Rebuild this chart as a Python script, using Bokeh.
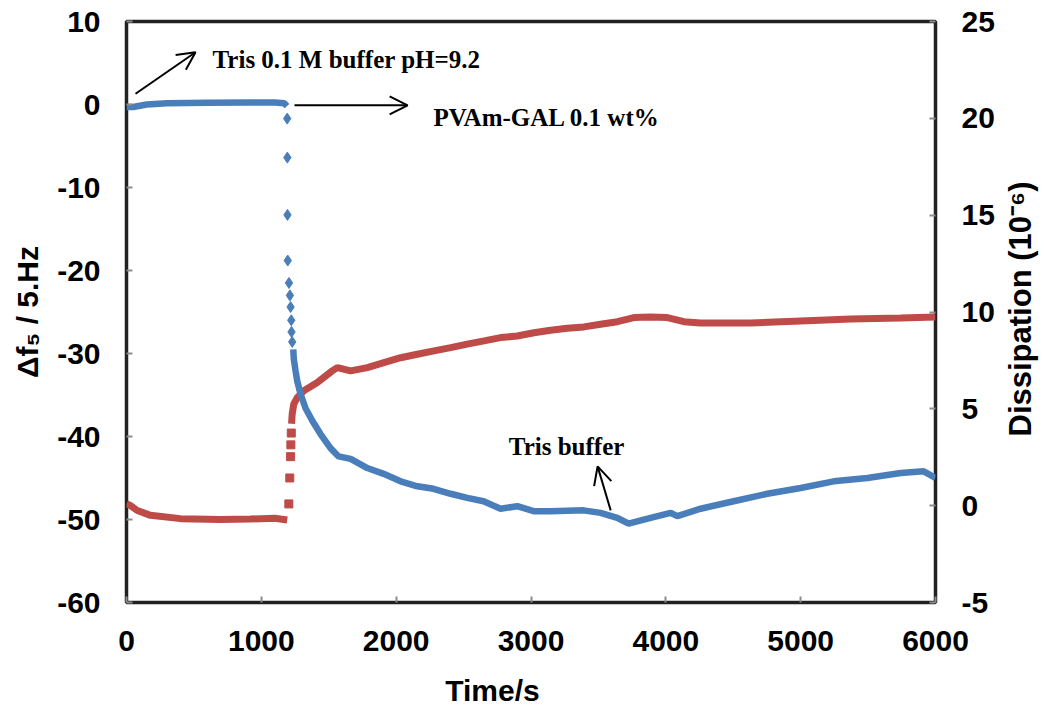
import math
from bokeh.plotting import figure
from bokeh.layouts import row, column
from bokeh.models import (Range1d, LinearAxis, FixedTicker, Label, Arrow, OpenHead,
                          CustomJSTickFormatter)
from bokeh.embed import file_html
from bokeh.resources import INLINE

# ---- data ----
freq_t_pre = [0, 50, 150, 300, 600, 900, 1100, 1170, 1190]
freq_v_pre = [-0.3, -0.3, 0.0, 0.15, 0.2, 0.25, 0.25, 0.15, -0.2]
freq_t_jump = [1192, 1193, 1194, 1196, 1205, 1212, 1217, 1222, 1224, 1229]
freq_v_jump = [-1.7, -6.4, -13.3, -18.8, -21.5, -23.0, -24.4, -26.0, -27.4, -28.6]
freq_t_post = [1237, 1241, 1254, 1266, 1291, 1328, 1378, 1439, 1513, 1573, 1662, 1786,
               1907, 2033, 2157, 2277, 2404, 2527, 2648, 2774, 2898, 3019, 3145, 3390,
               3516, 3640, 3724, 3887, 4036, 4085, 4258, 4503, 4753, 5000, 5245, 5495,
               5742, 5913, 6000]
freq_v_post = [-29.5, -30.7, -32.1, -33.3, -34.9, -36.6, -38.1, -39.7, -41.4, -42.4, -42.7,
               -43.8, -44.5, -45.4, -46.0, -46.3, -46.9, -47.4, -47.8, -48.7, -48.4, -49.0,
               -49.0, -48.9, -49.2, -49.8, -50.5, -49.8, -49.2, -49.6, -48.7, -47.8, -46.9,
               -46.2, -45.4, -45.0, -44.4, -44.2, -45.0]

diss_t_pre = [0, 30, 80, 178, 400, 697, 920, 1100, 1192]
diss_v_pre = [0.1, 0.0, -0.25, -0.5, -0.67, -0.72, -0.69, -0.65, -0.74]
diss_t_jump = [1204, 1211, 1217, 1219, 1222]
diss_v_jump = [0.09, 1.43, 2.53, 3.14, 3.75]
diss_t_post = [1224, 1229, 1241, 1266, 1315, 1415, 1526, 1563, 1662, 1786, 1909, 2033,
               2157, 2280, 2404, 2527, 2651, 2774, 2898, 3022, 3145, 3269, 3392, 3516,
               3640, 3763, 3887, 4011, 4134, 4258, 4629, 5000, 5371, 5742, 6000]
diss_v_post = [4.23, 4.74, 5.26, 5.58, 5.93, 6.36, 6.96, 7.13, 6.96, 7.13, 7.39, 7.64,
               7.82, 7.99, 8.16, 8.34, 8.51, 8.68, 8.76, 8.93, 9.06, 9.16, 9.23, 9.37,
               9.5, 9.71, 9.74, 9.71, 9.5, 9.43, 9.43, 9.54, 9.64, 9.69, 9.74]

x_ticks = [0, 1000, 2000, 3000, 4000, 5000, 6000]
left_ticks = [-60, -50, -40, -30, -20, -10, 0, 10]
right_ticks = [-5, 0, 5, 10, 15, 20, 25]

x_title = "Time/s"
left_title = "Δf₅ / 5.Hz"
right_title = "Dissipation (10⁻⁶)"

BLUE = "#4A7EBB"
RED = "#BE4B48"
SANS = "Liberation Sans"
SERIF = "Liberation Serif"

# ---- main plot ----
p = figure(width=1000, height=672, x_range=Range1d(0, 6000), y_range=Range1d(-60, 10),
           output_backend="svg", toolbar_location=None,
           min_border_left=126, min_border_right=65, min_border_top=21, min_border_bottom=70)
p.extra_y_ranges = {"diss": Range1d(-5, 25)}
p.grid.visible = False
p.outline_line_color = "#222222"
p.outline_line_width = 3.5
p.background_fill_color = "white"
p.border_fill_color = "white"

fmt = CustomJSTickFormatter(code="return tick.toFixed(0);")

def style_axis(ax, standoff):
    ax.formatter = fmt
    ax.axis_line_color = None
    ax.major_tick_in = 6
    ax.major_tick_out = 0
    ax.minor_tick_line_color = None
    ax.major_tick_line_color = "#8c8c8c"
    ax.major_tick_line_width = 2
    ax.major_label_text_font = SANS
    ax.major_label_text_font_style = "bold"
    ax.major_label_text_font_size = "30px"
    ax.major_label_text_color = "black"
    ax.major_label_standoff = standoff
    ax.axis_label_text_font = SANS
    ax.axis_label_text_font_style = "bold"
    ax.axis_label_text_font_size = "30px"
    ax.axis_label_text_color = "black"

xa = p.xaxis[0]
xa.ticker = FixedTicker(ticks=x_ticks)
style_axis(xa, 28)

ya = p.yaxis[0]
ya.ticker = FixedTicker(ticks=left_ticks)
style_axis(ya, 26)
ya.axis_label = left_title
ya.axis_label_standoff = 10

ra = LinearAxis(y_range_name="diss", ticker=FixedTicker(ticks=right_ticks))
style_axis(ra, 26)
p.add_layout(ra, "right")

# dissipation series (right axis)
p.line(diss_t_pre, diss_v_pre, y_range_name="diss", line_color=RED, line_width=7)
p.scatter(diss_t_jump, diss_v_jump, y_range_name="diss", marker="square", size=8,
          fill_color=RED, line_color=RED)
p.line(diss_t_post, diss_v_post, y_range_name="diss", line_color=RED, line_width=7)

# frequency series (left axis)
p.line(freq_t_pre, freq_v_pre, line_color=BLUE, line_width=6.5)
p.scatter(freq_t_jump, freq_v_jump, marker="diamond", size=11,
          fill_color=BLUE, line_color=BLUE)
p.line(freq_t_post, freq_v_post, line_color=BLUE, line_width=6.5)

# annotations
def arrow(x0, y0, x1, y1):
    p.add_layout(Arrow(end=OpenHead(size=18, line_width=2, line_color="black"),
                       x_start=x0, y_start=y0, x_end=x1, y_end=y1,
                       line_width=2, line_color="black"))

def note(x, y, text, align="left"):
    p.add_layout(Label(x=x, y=y, text=text, text_align=align, text_baseline="middle",
                       text_font=SERIF, text_font_style="bold", text_font_size="25px",
                       text_color="black"))

arrow(67, 1.3, 512, 6.3)
note(638, 5.4, "Tris 0.1 M buffer pH=9.2")
arrow(1246, -0.1, 2085, -0.1)
note(2277, -1.6, "PVAm-GAL 0.1 wt%")
arrow(3591, -48.9, 3494, -43.6)
note(3264, -41.2, "Tris buffer", align="center")

# ---- strip on the right carrying the right-axis title (reads bottom to top) ----
def blank(w, h, xr, yr):
    f = figure(width=w, height=h, x_range=xr, y_range=yr, output_backend="svg",
               toolbar_location=None, x_axis_type=None, y_axis_type=None,
               min_border_left=0, min_border_right=0, min_border_top=0, min_border_bottom=0)
    f.grid.visible = False
    f.outline_line_color = None
    f.background_fill_color = "white"
    f.border_fill_color = "white"
    return f

p2 = blank(44, 672, Range1d(0, 44), Range1d(672, 0))
p2.add_layout(Label(x=20, y=480, text=right_title, angle=math.pi / 2,
                    text_align="left", text_baseline="middle",
                    text_font=SANS, text_font_style="bold", text_font_size="31px",
                    text_color="black"))

# ---- strip below carrying the x-axis title ----
p3 = blank(1044, 34, Range1d(0, 1044), Range1d(34, 0))
p3.add_layout(Label(x=492, y=18, text=x_title,
                    text_align="center", text_baseline="middle",
                    text_font=SANS, text_font_style="bold", text_font_size="30px",
                    text_color="black"))

layout = column(row(p, p2, spacing=0), p3, spacing=0)
open("out.html", "w").write(file_html(layout, INLINE))
